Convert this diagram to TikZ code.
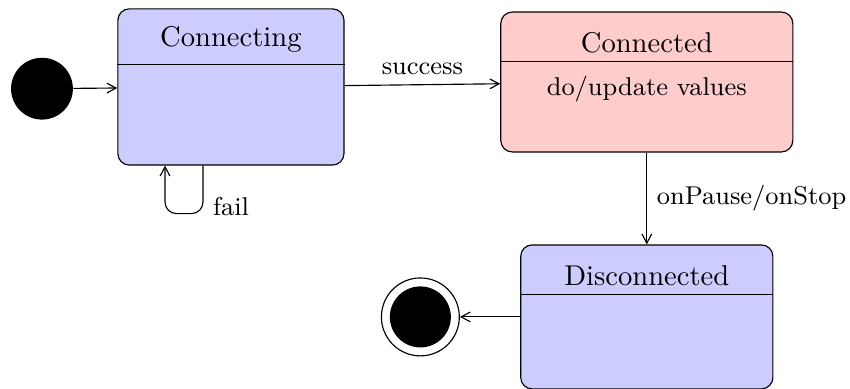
\documentclass[tikz,border=0pt]{standalone}
\usepackage{tikz}
\usetikzlibrary{arrows.meta}

\begin{document}
\begin{tikzpicture}[
        >={Straight Barb[length = 3.2pt, width = 3.4pt]},
        statebox/.style = {draw, rounded corners, inner sep = 0pt},
        title/.style = {inner sep = 0pt},
        label/.style = {font = \small}
    ]
            \useasboundingbox (0,0) rectangle (10.45,-4.78);
            % initial and final pseudo states
            \node[circle, fill = black, inner sep = 0pt, minimum size = 0.76cm] (init) at (0.516,-1.09) {};
            \node[circle, draw, inner sep = 0pt, minimum size = 0.958cm] (final) at (5.168,-3.896) {};
            \fill[black] (final.center) circle[radius = 0.375];
            % states
            \node[statebox, fill = blue!20, minimum width = 2.78cm, minimum height = 1.92cm] (connecting) at (2.839,-1.069) {};
            \node[statebox, fill = red!20, minimum width = 3.59cm, minimum height = 1.72cm] (connected) at (7.952,-1.008) {};
            \node[statebox, fill = blue!20, minimum width = 3.10cm, minimum height = 1.77cm] (disconnected) at (7.952,-3.896) {};
            \begin{scope}
                \node[title] (connecting-title) at ([yshift = -0.38cm]connecting.north) {Connecting};
                \node[title] (connected-title) at ([yshift = -0.38cm]connected.north) {Connected};
                \node[title, font = \small] (connected-do) at ([yshift = -0.96cm]connected.north) {do/update values};
                \node[title] (disconnected-title) at ([yshift = -0.38cm]disconnected.north) {Disconnected};
                \draw ([yshift = -0.69cm]connecting.north west) -- ([yshift = -0.69cm]connecting.north east);
                \draw ([yshift = -0.615cm]connected.north west) -- ([yshift = -0.615cm]connected.north east);
                \draw ([yshift = -0.615cm]disconnected.north west) -- ([yshift = -0.615cm]disconnected.north east);
            \end{scope}
            % transitions
            \begin{scope}[->]
                \draw (init) -- (connecting);
                \draw (connecting) -- node[label, above] {success} (connected);
                \draw (connected) -- node[label, right] {onPause/onStop} (disconnected);
                \draw (disconnected) -- (final);
                \draw[rounded corners] ([xshift = -0.344cm]connecting.south) -- node[label, pos = 0.85, right] {fail} ++(0,-0.59) -| ([xshift = -0.81cm]connecting.south);
            \end{scope}
        \end{tikzpicture}
\end{document}
